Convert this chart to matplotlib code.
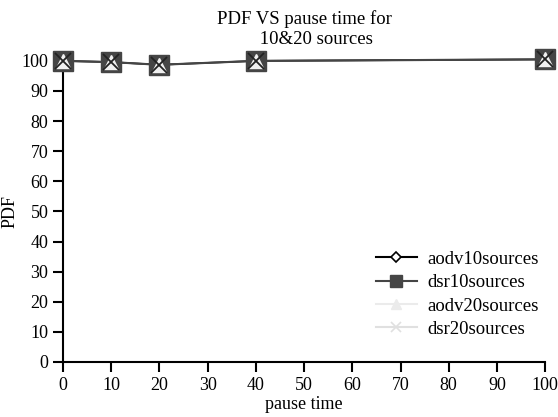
import matplotlib.pyplot as plt
from matplotlib.lines import Line2D

plt.rcParams['font.family'] = ['Liberation Serif', 'DejaVu Serif']

pause_time = [0, 10, 20, 40, 100]
aodv10 = [100, 99.6, 98.7, 100, 100.5]
dsr10 = [100, 99.6, 98.7, 100, 100.5]
aodv20 = [100, 99.6, 98.7, 100, 100.5]
dsr20 = [100, 99.6, 98.7, 100, 100.5]

fig = plt.figure(figsize=(5.58, 4.17), dpi=100)
ax = fig.add_axes([0.113, 0.132, 0.864, 0.722])

# lines (light ones below the dark ones)
ax.plot(pause_time, aodv20, color='#ebebeb', lw=1.5, clip_on=False, zorder=1)
ax.plot(pause_time, dsr20, color='#e0e0e0', lw=1.5, clip_on=False, zorder=1)
ax.plot(pause_time, aodv10, color='black', marker='D', markersize=7, mfc='white',
        mec='black', mew=1.2, lw=1.2, clip_on=False, zorder=2)
ax.plot(pause_time, dsr10, color='#454545', marker='s', markersize=14, lw=1.5,
        clip_on=False, zorder=3)
# light markers drawn on top of the squares
ax.plot(pause_time, aodv20, ls='none', color='#f0f0f0', marker='^', markersize=10,
        clip_on=False, zorder=4)
ax.plot(pause_time, dsr20, ls='none', color='#222222', marker='x', markersize=12,
        mew=1.3, clip_on=False, zorder=5)

ax.set_xlim(0, 100)
ax.set_ylim(0, 100)
ax.set_xticks(range(0, 101, 10))
ax.set_yticks(range(0, 101, 10))
for s in ['top', 'right']:
    ax.spines[s].set_visible(False)
for s in ['left', 'bottom']:
    ax.spines[s].set_linewidth(1.5)
ax.tick_params(direction='out', length=7, width=1.5, labelsize=13)

ax.set_title('PDF VS pause time for\n     10&20 sources', fontsize=13.5, pad=12, linespacing=1.25)
ax.set_xlabel('pause time', fontsize=13, labelpad=2)
ax.set_ylabel('PDF', fontsize=13, labelpad=2)

handles = [
    Line2D([], [], color='black', marker='D', markersize=5, mfc='white', mec='black', mew=1.2, lw=1.5),
    Line2D([], [], color='#454545', marker='s', markersize=8, lw=1.5),
    Line2D([], [], color='#ebebeb', marker='^', markersize=7, lw=1.5),
    Line2D([], [], color='#e0e0e0', marker='x', markersize=7, mew=1.2, lw=1.5),
]
labels = ['aodv10sources', 'dsr10sources', 'aodv20sources', 'dsr20sources']
ax.legend(handles, labels, frameon=False, fontsize=13.5,
          loc='upper left', bbox_to_anchor=(0.629, 0.40), handlelength=2.2,
          labelspacing=0.33, handletextpad=0.55, borderpad=0)

fig.savefig('out.png', dpi=100)
